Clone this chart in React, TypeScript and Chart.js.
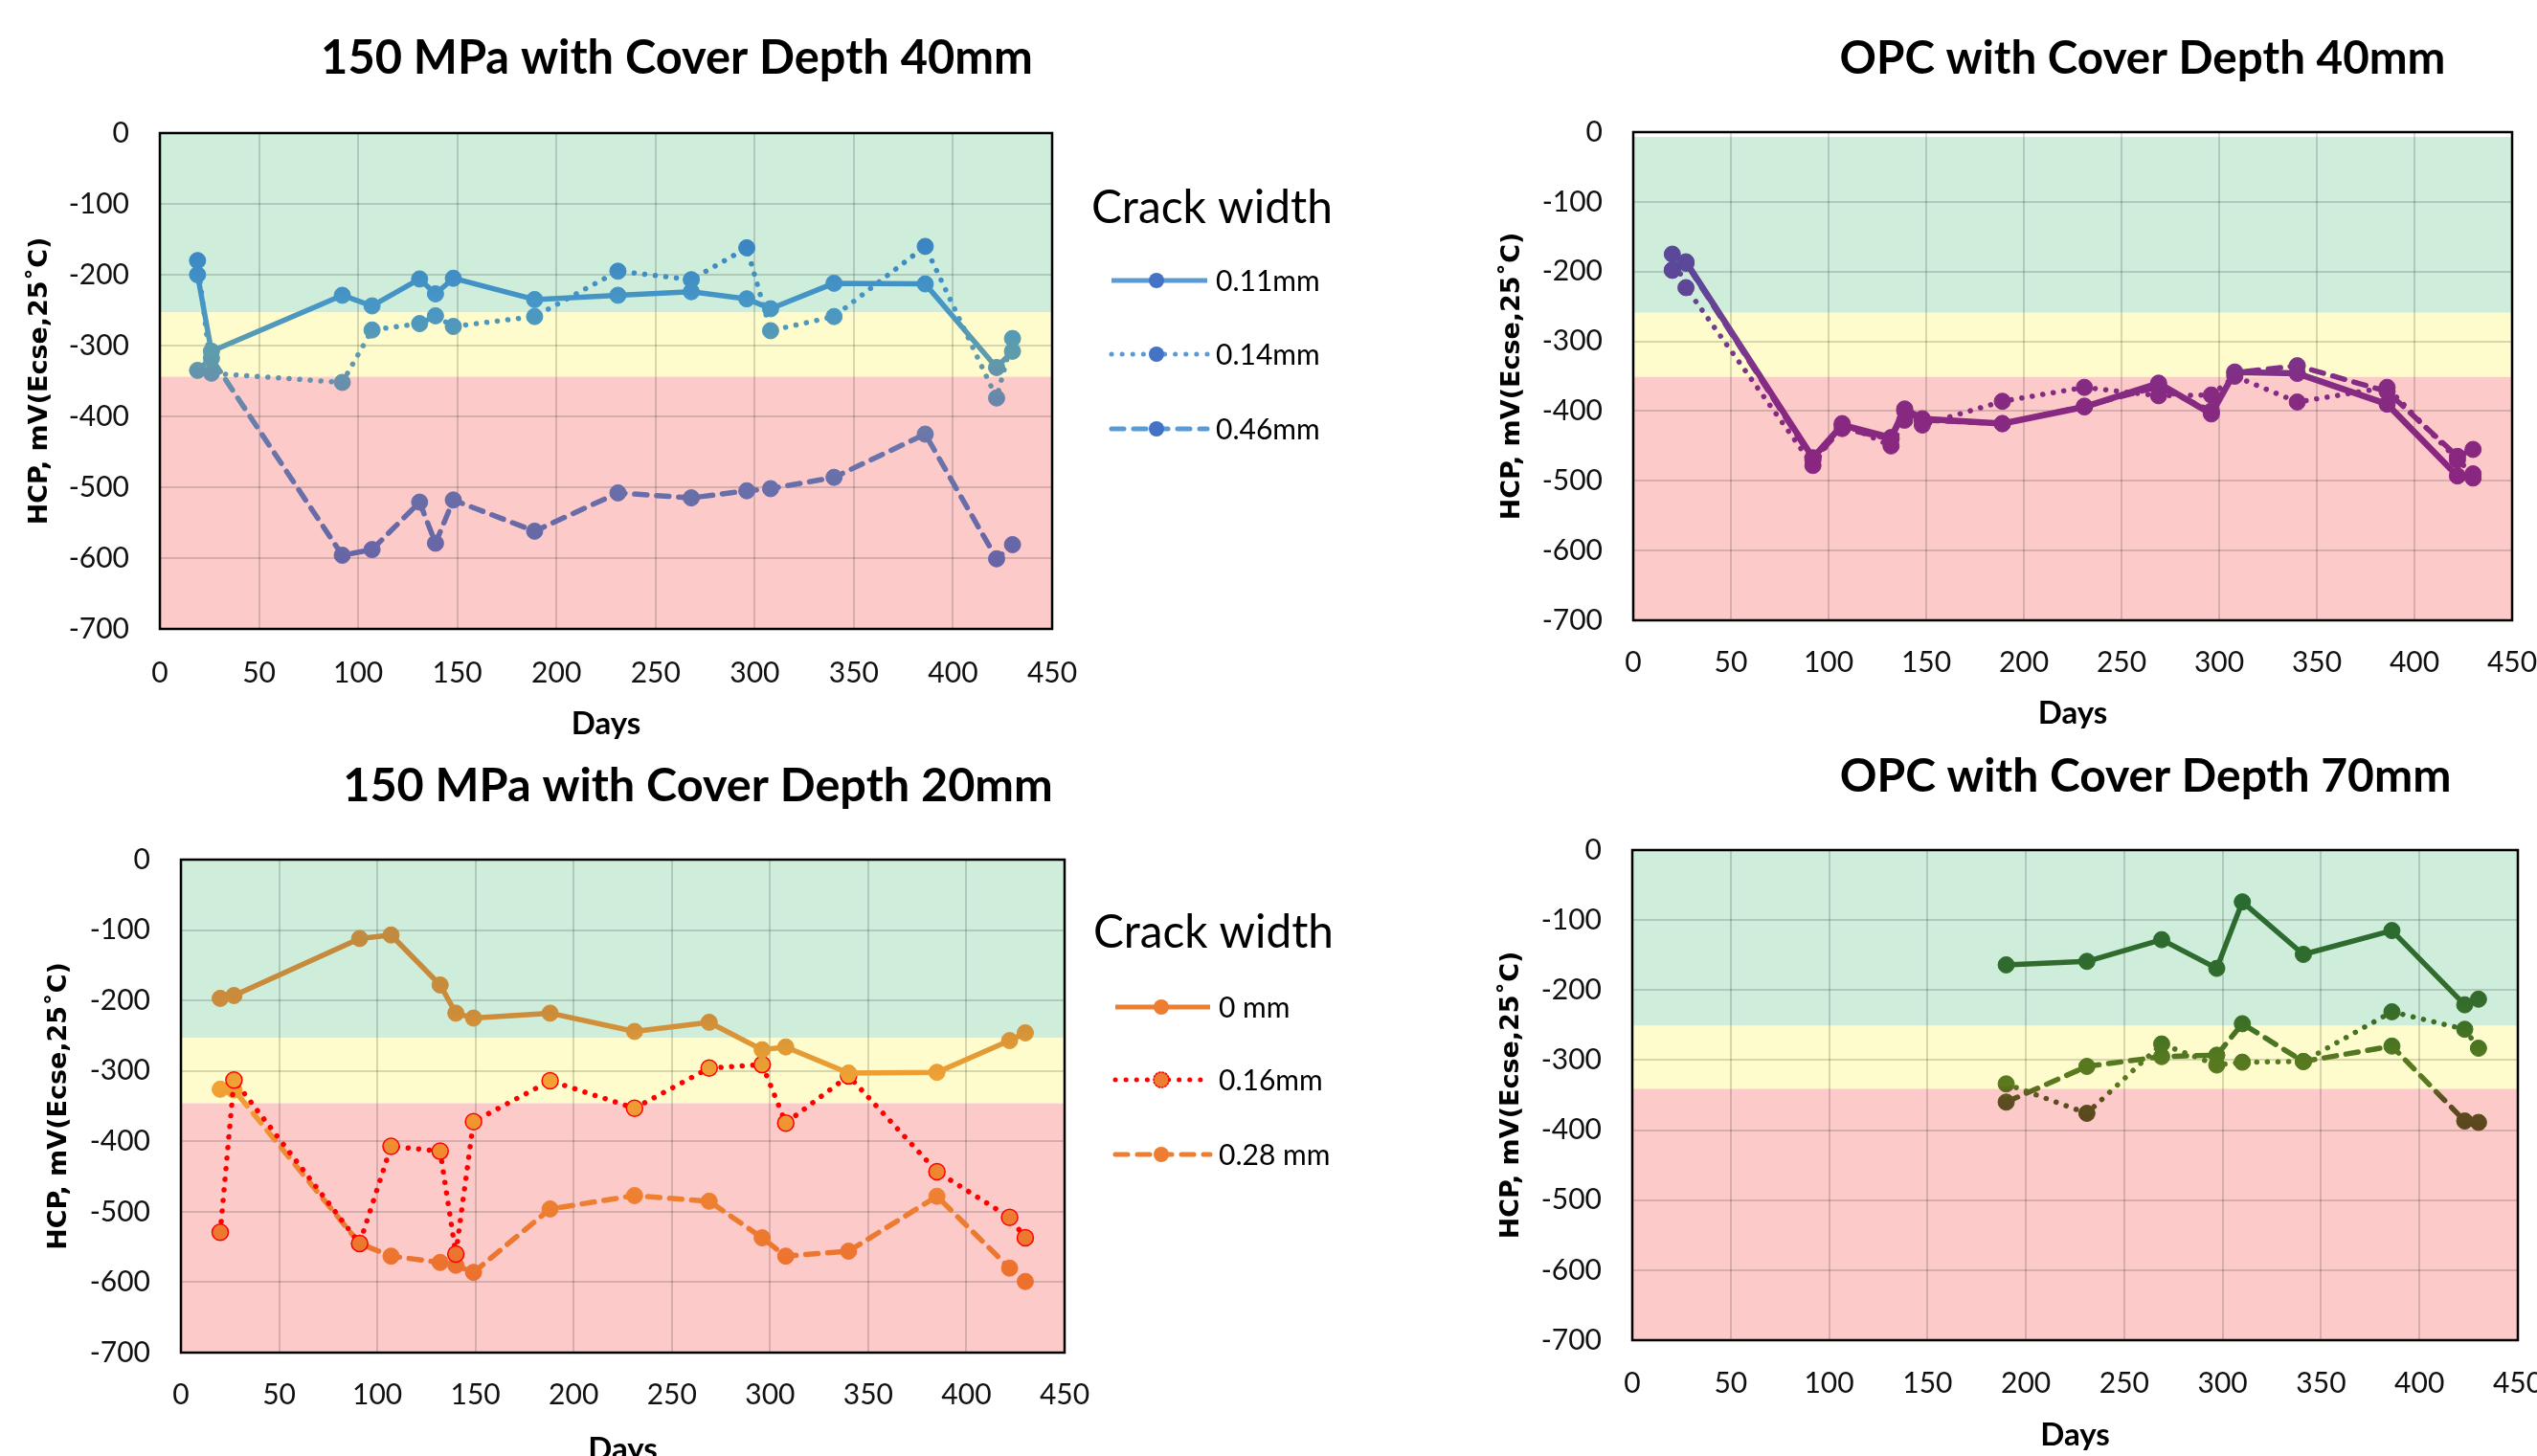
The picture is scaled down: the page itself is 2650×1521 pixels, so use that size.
import React, { useEffect, useRef } from 'react';
import { Chart, registerables } from 'chart.js';

Chart.register(...registerables);

// ---------------- data ----------------
const tlDays = [19, 26, 92, 107, 131, 139, 148, 189, 231, 268, 296, 308, 340, 386, 422, 430];
const tl011 = [-200, -308, -229, -244, -206, -227, -205, -235, -229, -224, -234, -248, -212, -213, -331, -308];
const tl014 = [-180, -339, -352, -278, -269, -258, -273, -259, -195, -207, -162, -279, -259, -160, -374, -290];
const tl046 = [-335, -318, -596, -588, -521, -579, -518, -562, -508, -515, -505, -502, -486, -425, -601, -581];

const trDays = [20, 27, 92, 107, 132, 139, 148, 189, 231, 269, 296, 308, 340, 386, 422, 430];
const trSolid = [-198, -186, -467, -420, -438, -397, -411, -418, -394, -360, -404, -344, -346, -390, -493, -496];
const trDot = [-175, -223, -478, -418, -450, -413, -420, -386, -366, -378, -377, -350, -387, -366, -470, -490];
const trDash = [-198, -188, -470, -425, -440, -400, -413, -418, -393, -365, -400, -345, -335, -372, -465, -455];

const blDays = [20, 27, 91, 107, 132, 140, 149, 188, 231, 269, 296, 308, 340, 385, 422, 430];
const bl0 = [-197, -193, -112, -107, -178, -218, -225, -218, -244, -231, -270, -266, -303, -302, -257, -246];
const bl016 = [-529, -313, -545, -407, -414, -560, -372, -314, -353, -296, -291, -374, -307, -443, -508, -537];
const bl028 = [-326, -327, -545, -563, -572, -576, -586, -496, -477, -485, -537, -563, -556, -478, -580, -599];

const brDays = [190, 231, 269, 297, 310, 341, 386, 423, 430];
const brSolid = [-164, -159, -128, -169, -74, -149, -115, -221, -213];
const brDash = [-360, -309, -295, -293, -248, -302, -280, -387, -389];
const brDot = [-334, -376, -277, -307, -303, -302, -231, -256, -283];

const xTicks = [0, 450, 50];
const yTicks = [-700, 0, 100];

const titles = [
  '150 MPa with Cover Depth 40mm',
  'OPC with Cover Depth 40mm',
  '150 MPa with Cover Depth 20mm',
  'OPC with Cover Depth 70mm',
];
const yTitle = 'HCP, mV(Ecse,25˚C)';
const xTitle = 'Days';
const legendTitle = 'Crack width';
const tlLabels = ['0.11mm', '0.14mm', '0.46mm'];
const blLabels = ['0 mm', '0.16mm', '0.28 mm'];

// ---------------- styles ----------------
const SANS = 'Lato, "Open Sans", "Liberation Sans", sans-serif';
const YFONT = '"DejaVu Sans", Verdana, sans-serif';
const GREEN = '#ceeedb';
const YELLOW = '#fefccc';
const RED = '#fdcaca';
const GRID = 'rgba(0,0,0,0.15)';

type Style = 'solid' | 'dot' | 'dash';
interface Series { label: string; days: number[]; values: number[]; style: Style; line?: string; pointBorder?: string; width?: number }
interface LegendDef {
  x: number; titleBaseline: number; titleWidth: number; lineX1: number; lineX2: number; markerX: number; textX: number;
  rows: number[]; labels: string[]; styles: Style[]; lineColors: string[]; markerColors: string[]; markerBorders: (string | null)[];
}
interface ChartDef {
  x0: number; y0: number; w: number; h: number;
  plot: { l: number; t: number; r: number; b: number };
  title: string; titleCx: number; titleBaseline: number; titleWidth: number;
  yTitleCx: number; daysCy: number; xTickCy: number;
  bands: [number, number, number];
  stops: [number, string][];
  series: Series[];
  legend?: LegendDef;
}

const dashFor = (s: Style) => (s === 'dot' ? [0.1, 11] : s === 'dash' ? [13, 10] : []);
const capFor = (s: Style) => (s === 'solid' ? 'butt' : 'round');

const charts: ChartDef[] = [
  {
    x0: 0, y0: 0, w: 1450, h: 800,
    plot: { l: 167, t: 139, r: 1099, b: 657 },
    title: titles[0], titleCx: 707, titleBaseline: 77, titleWidth: 744,
    yTitleCx: 42, daysCy: 756, xTickCy: 703,
    bands: [0, -253, -344],
    stops: [[-150, '#3a84c2'], [-240, '#4696c6'], [-310, '#5e9cac'], [-350, '#6790ab'], [-430, '#6a76aa'], [-600, '#6765a6']],
    series: [
      { label: tlLabels[0], days: tlDays, values: tl011, style: 'solid' },
      { label: tlLabels[1], days: tlDays, values: tl014, style: 'dot' },
      { label: tlLabels[2], days: tlDays, values: tl046, style: 'dash' },
    ],
    legend: {
      x: 1140, titleBaseline: 233, titleWidth: 252, lineX1: 1161, lineX2: 1261, markerX: 1208, textX: 1270,
      rows: [293, 370, 448], labels: tlLabels, styles: ['solid', 'dot', 'dash'],
      lineColors: ['#5b9bd5', '#5b9bd5', '#5b9bd5'], markerColors: ['#4472c4', '#4472c4', '#4472c4'], markerBorders: [null, null, null],
    },
  },
  {
    x0: 1450, y0: 0, w: 1250, h: 800,
    plot: { l: 1706, t: 138, r: 2624, b: 648 },
    title: titles[1], titleCx: 2238, titleBaseline: 77, titleWidth: 633,
    yTitleCx: 1580, daysCy: 745, xTickCy: 692,
    bands: [-7, -259, -351],
    stops: [[-150, '#584a9a'], [-220, '#5e4698'], [-300, '#783a8e'], [-370, '#862a82'], [-500, '#8a2680']],
    series: [
      { label: 'a', days: trDays, values: trSolid, style: 'solid', width: 6.5 },
      { label: 'b', days: trDays, values: trDot, style: 'dot' },
      { label: 'c', days: trDays, values: trDash, style: 'dash' },
    ],
  },
  {
    x0: 0, y0: 760, w: 1450, h: 800,
    plot: { l: 189, t: 898, r: 1112, b: 1413 },
    title: titles[2], titleCx: 729, titleBaseline: 837, titleWidth: 742,
    yTitleCx: 62, daysCy: 1514, xTickCy: 1457,
    bands: [0, -253, -346],
    stops: [[-100, '#c28a40'], [-220, '#cc8c3a'], [-270, '#e29a36'], [-320, '#f2a232'], [-420, '#ef8a32'], [-520, '#ed7a30'], [-600, '#ec702e']],
    series: [
      { label: blLabels[0], days: blDays, values: bl0, style: 'solid' },
      { label: blLabels[1], days: blDays, values: bl016, style: 'dot', line: '#ff0000', pointBorder: '#ff0000' },
      { label: blLabels[2], days: blDays, values: bl028, style: 'dash' },
    ],
    legend: {
      x: 1142, titleBaseline: 990, titleWidth: 251, lineX1: 1165, lineX2: 1264, markerX: 1213, textX: 1273,
      rows: [1052, 1128, 1206], labels: blLabels, styles: ['solid', 'dot', 'dash'],
      lineColors: ['#ed7d31', '#ff0000', '#ed7d31'], markerColors: ['#ed7d31', '#ed7d31', '#ed7d31'], markerBorders: [null, '#ff0000', null],
    },
  },
  {
    x0: 1450, y0: 760, w: 1250, h: 800,
    plot: { l: 1705, t: 888, r: 2630, b: 1400 },
    title: titles[3], titleCx: 2241, titleBaseline: 827, titleWidth: 639,
    yTitleCx: 1579, daysCy: 1499, xTickCy: 1445,
    bands: [0, -251, -341],
    stops: [[-70, '#2b6a31'], [-220, '#336c2c'], [-250, '#3e7024'], [-300, '#56791f'], [-335, '#5b7a1e'], [-355, '#5c4e1e'], [-400, '#5b461d']],
    series: [
      { label: 'a', days: brDays, values: brSolid, style: 'solid' },
      { label: 'b', days: brDays, values: brDot, style: 'dot' },
      { label: 'c', days: brDays, values: brDash, style: 'dash' },
    ],
  },
];

function gradientFor(stops: [number, string][]) {
  return (c: any) => {
    const chart = c.chart;
    const y = chart.scales && chart.scales.y;
    if (!chart.chartArea || !y) return stops[0][1];
    const top = y.getPixelForValue(0);
    const bot = y.getPixelForValue(-700);
    if (!isFinite(top) || !isFinite(bot) || bot === top) return stops[0][1];
    const g = chart.ctx.createLinearGradient(0, top, 0, bot);
    for (const [v, col] of stops) {
      const o = Math.min(1, Math.max(0, (y.getPixelForValue(v) - top) / (bot - top)));
      g.addColorStop(o, col);
    }
    return g;
  };
}

function makePlugin(def: ChartDef) {
  return {
    id: 'decor',
    beforeDraw(chart: any) {
      const { ctx, chartArea: ca } = chart;
      const y = chart.scales.y;
      const yp = (v: number) => y.getPixelForValue(v);
      const [g, yl, r] = def.bands;
      ctx.save();
      ctx.fillStyle = '#ffffff';
      ctx.fillRect(ca.left, ca.top, ca.width, ca.height);
      ctx.fillStyle = GREEN;
      ctx.fillRect(ca.left, yp(g), ca.width, yp(yl) - yp(g));
      ctx.fillStyle = YELLOW;
      ctx.fillRect(ca.left, yp(yl), ca.width, yp(r) - yp(yl));
      ctx.fillStyle = RED;
      ctx.fillRect(ca.left, yp(r), ca.width, ca.bottom - yp(r));
      ctx.restore();
    },
    beforeDatasetsDraw(chart: any) {
      const { ctx, chartArea: ca } = chart;
      ctx.save();
      ctx.strokeStyle = '#000';
      ctx.lineWidth = 2.5;
      ctx.strokeRect(ca.left, ca.top, ca.width, ca.height);
      ctx.restore();
    },
    afterDraw(chart: any) {
      const ctx = chart.ctx as CanvasRenderingContext2D;
      ctx.save();
      // title
      ctx.font = `bold 48px ${SANS}`;
      const m = ctx.measureText(def.title).width;
      const size = (48 * def.titleWidth) / m;
      ctx.font = `bold ${size}px ${SANS}`;
      ctx.fillStyle = '#000';
      ctx.textAlign = 'center';
      ctx.textBaseline = 'alphabetic';
      ctx.fillText(def.title, def.titleCx - def.x0, def.titleBaseline - def.y0);
      // legend
      const L = def.legend;
      if (L) {
        ctx.font = `50px ${SANS}`;
        const mw = ctx.measureText(legendTitle).width;
        ctx.font = `${(50 * L.titleWidth) / mw}px ${SANS}`;
        ctx.textAlign = 'left';
        ctx.fillText(legendTitle, L.x - def.x0, L.titleBaseline - def.y0);
        L.rows.forEach((row, i) => {
          const yy = row - def.y0;
          ctx.save();
          ctx.strokeStyle = L.lineColors[i];
          ctx.lineWidth = 5;
          ctx.setLineDash(dashFor(L.styles[i]));
          ctx.lineCap = capFor(L.styles[i]) as CanvasLineCap;
          ctx.beginPath();
          ctx.moveTo(L.lineX1 - def.x0, yy);
          ctx.lineTo(L.lineX2 - def.x0, yy);
          ctx.stroke();
          ctx.setLineDash([]);
          ctx.beginPath();
          ctx.arc(L.markerX - def.x0, yy, 8, 0, Math.PI * 2);
          ctx.fillStyle = L.markerColors[i];
          ctx.fill();
          const mb = L.markerBorders[i];
          if (mb) {
            ctx.setLineDash([1.5, 2]);
            ctx.lineWidth = 1.6;
            ctx.strokeStyle = mb;
            ctx.stroke();
          }
          ctx.restore();
          ctx.font = `30px ${SANS}`;
          ctx.fillStyle = '#000';
          ctx.textBaseline = 'middle';
          ctx.textAlign = 'left';
          ctx.fillText(L.labels[i], L.textX - def.x0, yy + 1);
        });
      }
      ctx.restore();
    },
  };
}

function buildConfig(def: ChartDef): any {
  const { plot, x0, y0, w, h } = def;
  const grad = gradientFor(def.stops);
  const tickFont = { family: SANS, size: 30, lineHeight: 1.2 };
  const datasets = def.series.map((s) => ({
    label: s.label,
    data: s.days.map((d, i) => ({ x: d, y: s.values[i] })),
    showLine: true,
    borderColor: s.line ? s.line : grad,
    backgroundColor: grad,
    borderWidth: s.width || 5.5,
    borderDash: dashFor(s.style),
    borderCapStyle: capFor(s.style),
    borderJoinStyle: 'round',
    tension: 0,
    pointRadius: 8.5,
    pointHoverRadius: 8.5,
    pointBackgroundColor: grad,
    pointBorderColor: s.pointBorder ? s.pointBorder : grad,
    pointBorderWidth: s.pointBorder ? 1.5 : 1,
    clip: false,
  }));
  return {
    type: 'scatter',
    data: { datasets },
    plugins: [makePlugin(def)],
    options: {
      animation: false,
      responsive: false,
      maintainAspectRatio: false,
      devicePixelRatio: 1,
      events: [],
      layout: {
        autoPadding: false,
        padding: { left: 0, top: plot.t - y0, right: x0 + w - plot.r, bottom: 0 },
      },
      plugins: { legend: { display: false }, title: { display: false }, tooltip: { enabled: false } },
      scales: {
        x: {
          type: 'linear', position: 'bottom', min: xTicks[0], max: xTicks[1],
          ticks: { stepSize: xTicks[2], font: tickFont, color: '#111', padding: def.xTickCy - plot.b - 18, maxRotation: 0, autoSkip: false },
          grid: { color: GRID, lineWidth: 2, drawTicks: false },
          border: { display: false },
          title: {
            display: true, text: xTitle, color: '#000',
            font: { family: SANS, size: 33, weight: 'bold', lineHeight: 1.2 },
            padding: { top: 0, bottom: y0 + h - def.daysCy - 33 * 0.6 },
          },
          afterFit: (s: any) => { s.height = y0 + h - plot.b; s.paddingLeft = 0; s.paddingRight = 0; },
        },
        y: {
          type: 'linear', position: 'left', min: yTicks[0], max: yTicks[1],
          ticks: { stepSize: yTicks[2], font: tickFont, color: '#111', padding: 32 },
          grid: { color: GRID, lineWidth: 2, drawTicks: false },
          border: { display: false },
          title: {
            display: true, text: yTitle, color: '#000',
            font: { family: YFONT, size: 27, weight: 'bold', lineHeight: 1.2 },
            padding: { top: def.yTitleCx - x0 - 27 * 0.6, bottom: 0 },
          },
          afterFit: (s: any) => { s.width = plot.l - x0; s.paddingTop = 0; s.paddingBottom = 0; },
        },
      },
    },
  };
}

function HcpChart({ def }: { def: ChartDef }) {
  const ref = useRef<HTMLCanvasElement>(null);
  useEffect(() => {
    const canvas = ref.current;
    if (!canvas) return;
    const chart = new Chart(canvas, buildConfig(def));
    return () => chart.destroy();
  }, [def]);
  return (
    <canvas
      ref={ref}
      width={def.w}
      height={def.h}
      style={{ position: 'absolute', left: def.x0, top: def.y0, width: def.w, height: def.h }}
    />
  );
}

export default function App() {
  return (
    <div style={{ position: 'absolute', left: 0, top: 0, width: 2650, height: 1521, overflow: 'hidden', background: '#fff' }}>
      {charts.map((d, i) => (
        <HcpChart key={i} def={d} />
      ))}
    </div>
  );
}
